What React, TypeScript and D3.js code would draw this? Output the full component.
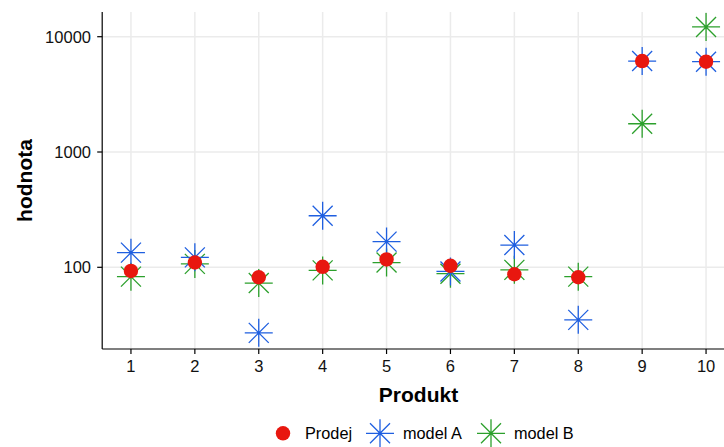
import React from "react";
import * as d3 from "d3";

const products = [1, 2, 3, 4, 5, 6, 7, 8, 9, 10];
const prodej = [93, 110, 82, 101, 117, 103, 87, 82, 6150, 6070];
const modelA = [134, 122, 27, 280, 167, 92, 156, 35, 6150, 6070];
const modelB = [83, 107, 73, 94, 110, 88, 95, 83, 1758, 12150];
const yTicks = [100, 1000, 10000];
const legendLabels = ["Prodej", "model A", "model B"];

const RED = "#E8170F";
const BLUE = "#1F5FE0";
const GREEN = "#2CA02C";

const W = 724;
const H = 447;
const left = 102.2;
const top = 12;
const bottom = 349;

const x = d3.scaleLinear().domain([0.55, 10.45]).range([left, left + 9.9 * 63.9]);
const y = d3.scaleLog().domain([19.56, 16380]).range([bottom, top]);

function Star({ cx, cy, color }: { cx: number; cy: number; color: string }) {
  const p = 14;
  const q = 10;
  const d = `M${cx - p},${cy}H${cx + p}M${cx},${cy - p}V${cy + p}M${cx - q},${cy - q}L${cx + q},${cy + q}M${cx - q},${cy + q}L${cx + q},${cy - q}`;
  return <path d={d} stroke={color} strokeWidth={1.3} fill="none" />;
}

export default function App() {
  const font = "Liberation Sans, Arial, sans-serif";
  const legendX = [283, 380, 491];
  const legendTextX = [305, 403, 514];
  const legendColors = [RED, BLUE, GREEN];
  return (
    <svg width={W} height={H} style={{ position: "absolute", left: 0, top: 0 }} fontFamily={font}>
      <rect width={W} height={H} fill="white" />
      {products.map((p) => (
        <line key={"vg" + p} x1={x(p)} x2={x(p)} y1={top} y2={bottom} stroke="#EBEBEB" strokeWidth={1.5} />
      ))}
      {yTicks.map((t) => (
        <line key={"hg" + t} x1={left} x2={W} y1={y(t)} y2={y(t)} stroke="#EBEBEB" strokeWidth={1.5} />
      ))}
      {products.map((p, i) => (
        <Star key={"b" + p} cx={x(p)} cy={y(modelB[i])} color={GREEN} />
      ))}
      {products.map((p, i) => (
        <Star key={"a" + p} cx={x(p)} cy={y(modelA[i])} color={BLUE} />
      ))}
      {products.map((p, i) => (
        <circle key={"r" + p} cx={x(p)} cy={y(prodej[i])} r={7.2} fill={RED} />
      ))}
      <line x1={left} x2={left} y1={top} y2={bottom} stroke="black" strokeWidth={1.2} />
      <line x1={left} x2={W} y1={bottom} y2={bottom} stroke="black" strokeWidth={1.2} />
      {yTicks.map((t) => (
        <g key={"yt" + t}>
          <line x1={left - 5} x2={left} y1={y(t)} y2={y(t)} stroke="black" strokeWidth={1.2} />
          <text x={91} y={y(t)} dy="0.36em" textAnchor="end" fontSize={16.5} fill="#111">
            {t}
          </text>
        </g>
      ))}
      {products.map((p) => (
        <g key={"xt" + p}>
          <line x1={x(p)} x2={x(p)} y1={bottom} y2={bottom + 5} stroke="black" strokeWidth={1.2} />
          <text x={x(p)} y={372} textAnchor="middle" fontSize={16.5} fill="#111">
            {p}
          </text>
        </g>
      ))}
      <text x={418.5} y={401.5} textAnchor="middle" fontSize={21} fontWeight="bold" fill="black">
        Produkt
      </text>
      <text
        transform={`translate(31.5, ${(top + bottom) / 2}) rotate(-90)`}
        textAnchor="middle"
        fontSize={21}
        fontWeight="bold"
        fill="black"
      >
        hodnota
      </text>
      {legendLabels.map((l, i) => (
        <g key={"lg" + l}>
          {i === 0 ? (
            <circle cx={legendX[i]} cy={433.3} r={7.2} fill={RED} />
          ) : (
            <Star cx={legendX[i]} cy={433.3} color={legendColors[i]} />
          )}
          <text x={legendTextX[i]} y={439.3} fontSize={16.3} fill="black">
            {l}
          </text>
        </g>
      ))}
    </svg>
  );
}
